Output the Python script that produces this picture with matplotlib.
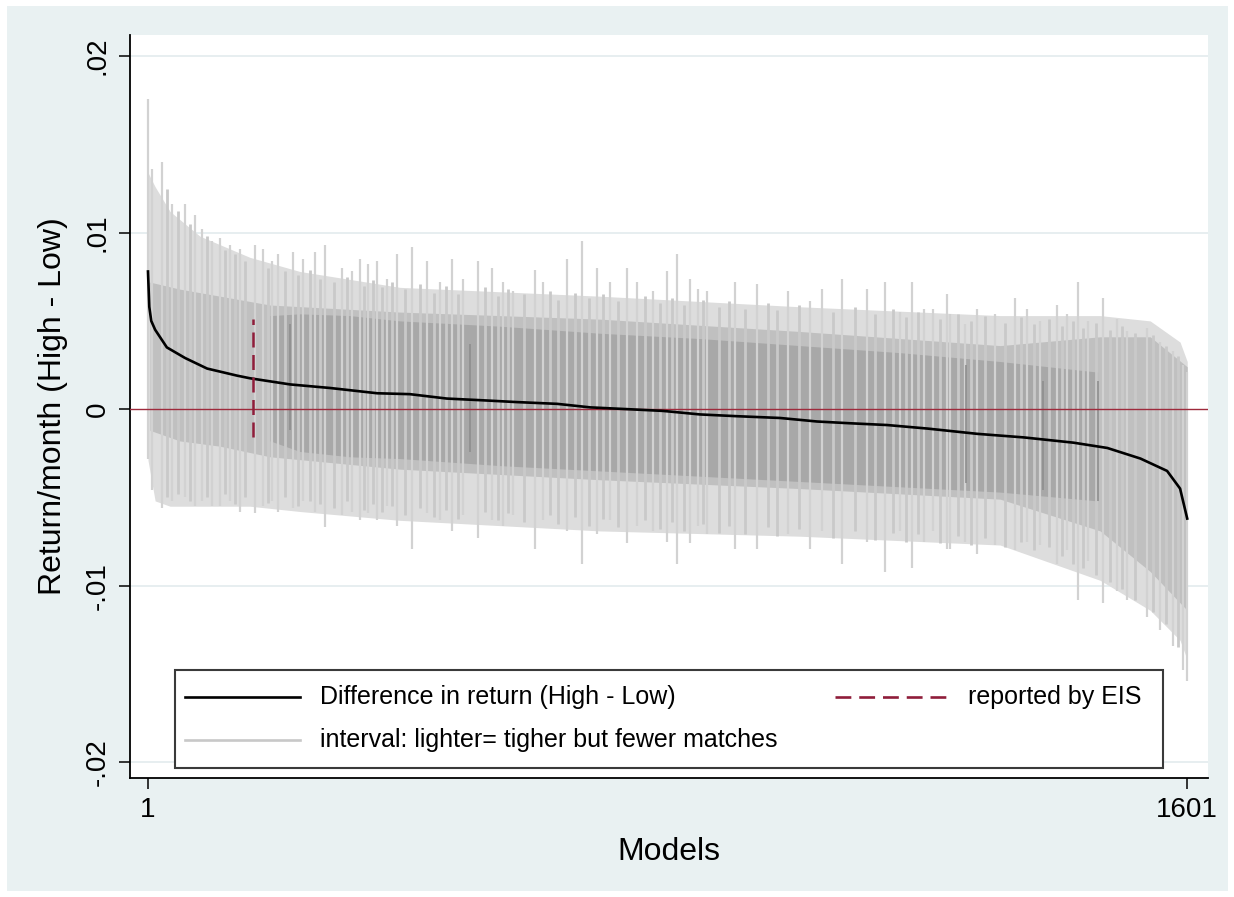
import matplotlib
matplotlib.use("Agg")
import matplotlib.pyplot as plt
from matplotlib.patches import Rectangle
from matplotlib.lines import Line2D

FONT = ['Liberation Sans', 'DejaVu Sans']
plt.rcParams['font.family'] = FONT

# ---------------- data ----------------
# difference in return (High - Low), sorted, read at model checkpoints
line_models = [1, 3, 6, 12, 30, 58, 92, 138, 158, 220, 281, 354, 404, 461, 517, 569,
               631, 682, 739, 794, 851, 908, 974, 1031, 1082, 1139, 1201, 1278, 1349,
               1426, 1478, 1529, 1570, 1590, 1601]
line_diff = [0.0078, 0.0058, 0.0050, 0.0045, 0.0035, 0.0029, 0.0023, 0.0019, 0.00175,
             0.0014, 0.0012, 0.0009, 0.00085, 0.0006, 0.0005, 0.0004, 0.0003, 0.0001,
             0.0000, -0.0001, -0.0003, -0.0004, -0.0005, -0.0007, -0.0008, -0.0009,
             -0.0011, -0.0014, -0.0016, -0.0019, -0.0022, -0.0028, -0.0035, -0.0045,
             -0.0062]

# light interval envelope (many models, few matches)
light_models = [1, 12, 35, 81, 158, 235, 389, 697, 1005, 1313, 1467, 1544, 1590, 1601]
light_hi = [0.0134, 0.0126, 0.0112, 0.0098, 0.0086, 0.0078, 0.0069, 0.0064, 0.0058,
            0.0053, 0.0053, 0.0050, 0.0038, 0.0027]
light_lo = [-0.0029, -0.0052, -0.0055, -0.0055, -0.0055, -0.0058, -0.0063, -0.0069,
            -0.0072, -0.0077, -0.0097, -0.0114, -0.0131, -0.0142]

# medium interval envelope
mid_models = [4, 50, 112, 189, 389, 697, 1005, 1313, 1467, 1544, 1601]
mid_hi = [0.0072, 0.0068, 0.0064, 0.0059, 0.0055, 0.0051, 0.0044, 0.0036, 0.0041,
          0.0041, 0.0024]
mid_lo = [-0.0012, -0.0018, -0.0021, -0.0027, -0.0034, -0.0040, -0.0045, -0.0051,
          -0.0069, -0.0092, -0.0114]

# dark interval envelope (more matches)
dark_models = [189, 235, 312, 389, 543, 697, 851, 1005, 1159, 1313, 1463]
dark_hi = [0.0053, 0.0054, 0.0053, 0.0050, 0.0047, 0.0043, 0.0040, 0.0036, 0.0032,
           0.0027, 0.0021]
dark_lo = [-0.0018, -0.0024, -0.0027, -0.0028, -0.0032, -0.0035, -0.0038, -0.0041,
           -0.0044, -0.0047, -0.0052]

# individual wide (light) intervals visible as tall spikes
spike_models = [1, 7, 23, 38, 58, 73, 84, 100, 112, 127, 143, 166, 178, 192, 201, 224,
                240, 258, 274, 300, 315, 327, 340, 354, 369, 384, 408, 431, 451, 469,
                486, 509, 531, 548, 563, 597, 609, 646, 669, 692, 712, 739, 754, 779,
                800, 816, 836, 848, 862, 905, 939, 987, 1020, 1039, 1070, 1108, 1136,
                1159, 1178, 1195, 1210, 1231, 1236, 1259, 1278, 1305, 1336, 1355, 1375,
                1401, 1416, 1433, 1449, 1472, 1493, 1509, 1539, 1559, 1579, 1595, 1600]
spike_hi = [0.0176, 0.0136, 0.0140, 0.0116, 0.0116, 0.0110, 0.0102, 0.0095, 0.0097,
            0.0093, 0.0091, 0.0093, 0.0091, 0.0084, 0.0088, 0.0089, 0.0085, 0.0089,
            0.0093, 0.0080, 0.0078, 0.0085, 0.0082, 0.0084, 0.0074, 0.0088, 0.0092,
            0.0084, 0.0072, 0.0085, 0.0074, 0.0084, 0.0080, 0.0072, 0.0067, 0.0079,
            0.0072, 0.0085, 0.0095, 0.0080, 0.0072, 0.0080, 0.0072, 0.0067, 0.0078,
            0.0088, 0.0074, 0.0068, 0.0067, 0.0072, 0.0071, 0.0067, 0.0061, 0.0068,
            0.0074, 0.0068, 0.0072, 0.0055, 0.0072, 0.0057, 0.0057, 0.0065, 0.0054,
            0.0048, 0.0057, 0.0054, 0.0063, 0.0057, 0.0050, 0.0059, 0.0054, 0.0072,
            0.0050, 0.0063, 0.0051, 0.0044, 0.0046, 0.0038, 0.0033, 0.0025, 0.0021]
spike_lo = [-0.0028, -0.0046, -0.0056, -0.0052, -0.0050, -0.0055, -0.0052, -0.0055,
            -0.0055, -0.0052, -0.0058, -0.0059, -0.0055, -0.0052, -0.0058, -0.0056,
            -0.0052, -0.0058, -0.0067, -0.0060, -0.0058, -0.0063, -0.0059, -0.0063,
            -0.0055, -0.0066, -0.0079, -0.0059, -0.0063, -0.0069, -0.0060, -0.0073,
            -0.0063, -0.0066, -0.0060, -0.0079, -0.0063, -0.0069, -0.0088, -0.0071,
            -0.0063, -0.0076, -0.0066, -0.0069, -0.0075, -0.0088, -0.0076, -0.0066,
            -0.0071, -0.0079, -0.0079, -0.0071, -0.0079, -0.0069, -0.0088, -0.0075,
            -0.0092, -0.0069, -0.0090, -0.0075, -0.0069, -0.0079, -0.0079, -0.0075,
            -0.0082, -0.0077, -0.0080, -0.0075, -0.0077, -0.0088, -0.0080, -0.0108,
            -0.0086, -0.0110, -0.0103, -0.0108, -0.0118, -0.0125, -0.0134, -0.0148,
            -0.0154]

# intermediate intervals (medium spikes)
spike2_models = [30, 47, 65, 92, 120, 135, 150, 185, 212, 232, 250, 266, 287, 307, 333,
                 347, 362, 377, 396, 420, 441, 460, 478, 520, 540, 556, 580, 620, 633,
                 658, 680, 702, 725, 766, 790, 808, 826, 855, 880, 895, 920, 955, 970,
                 1003, 1055, 1090, 1120, 1148, 1168, 1187, 1220, 1248, 1268, 1290, 1320,
                 1345, 1365, 1388, 1408, 1425, 1440, 1460, 1482, 1500, 1520, 1549, 1568,
                 1587]
spike2_hi = [0.0125, 0.0112, 0.0105, 0.0098, 0.0090, 0.0088, 0.0084, 0.0080, 0.0078,
             0.0076, 0.0079, 0.0074, 0.0072, 0.0075, 0.0070, 0.0073, 0.0069, 0.0072,
             0.0068, 0.0071, 0.0066, 0.0070, 0.0065, 0.0069, 0.0064, 0.0068, 0.0065,
             0.0067, 0.0062, 0.0066, 0.0063, 0.0065, 0.0061, 0.0064, 0.0060, 0.0063,
             0.0059, 0.0062, 0.0058, 0.0061, 0.0057, 0.0060, 0.0056, 0.0059, 0.0055,
             0.0058, 0.0054, 0.0057, 0.0052, 0.0055, 0.0051, 0.0054, 0.0050, 0.0053,
             0.0049, 0.0052, 0.0048, 0.0051, 0.0047, 0.0050, 0.0046, 0.0049, 0.0045,
             0.0047, 0.0043, 0.0042, 0.0036, 0.0030]
spike2_lo = [-0.0050, -0.0048, -0.0052, -0.0050, -0.0048, -0.0054, -0.0050, -0.0053,
             -0.0050, -0.0055, -0.0052, -0.0054, -0.0056, -0.0052, -0.0057, -0.0054,
             -0.0058, -0.0055, -0.0060, -0.0056, -0.0061, -0.0057, -0.0062, -0.0058,
             -0.0063, -0.0059, -0.0064, -0.0060, -0.0065, -0.0061, -0.0066, -0.0062,
             -0.0067, -0.0063, -0.0068, -0.0064, -0.0069, -0.0065, -0.0070, -0.0066,
             -0.0071, -0.0067, -0.0072, -0.0068, -0.0073, -0.0069, -0.0074, -0.0070,
             -0.0075, -0.0071, -0.0076, -0.0072, -0.0077, -0.0073, -0.0078, -0.0075,
             -0.0080, -0.0078, -0.0083, -0.0088, -0.0090, -0.0094, -0.0098, -0.0102,
             -0.0108, -0.0115, -0.0122, -0.0135]

# individual narrow (dark) intervals
darkline_models = [220, 497, 1261, 1379, 1463]
darkline_hi = [0.0048, 0.0037, 0.0025, 0.0016, 0.0016]
darkline_lo = [-0.0012, -0.0024, -0.0042, -0.0046, -0.0052]

# reported by EIS
eis_model = 163
eis_hi = 0.0051
eis_lo = -0.0016

yticks = [-0.02, -0.01, 0.0, 0.01, 0.02]
ytick_labels = ['-.02', '-.01', '0', '.01', '.02']
xticks = [1, 1601]
xtick_labels = ['1', '1601']

# ---------------- figure ----------------
W, H = 1234, 897
fig = plt.figure(figsize=(W / 100, H / 100), dpi=100, facecolor='white')
BG = '#e9f1f2'
fig.patches.append(Rectangle((7 / W, 1 - 891 / H), (1228 - 7) / W, (891 - 6) / H,
                             transform=fig.transFigure, facecolor=BG, edgecolor='none',
                             zorder=-10))

ax = fig.add_axes([130 / W, 1 - 778 / H, (1208 - 130) / W, (778 - 35) / H])
ax.set_facecolor('white')
ax.set_xlim(-26.7, 1633)
ax.set_ylim(-0.0209, 0.0212)

for g in [-0.02, -0.01, 0.01, 0.02]:
    ax.axhline(g, color='#e3ebee', lw=1.2, zorder=1)

ax.fill_between(light_models, light_hi, light_lo, color='#dddddd', lw=0, zorder=2)
ax.fill_between(mid_models, mid_hi, mid_lo, color='#c0c0c0', lw=0, zorder=3)
ax.fill_between(dark_models, dark_hi, dark_lo, color='#a8a8a8', lw=0, zorder=4)
ax.vlines(spike2_models, spike2_lo, spike2_hi, color='#c9c9c9', lw=2.0, zorder=5)
ax.vlines(spike_models, spike_lo, spike_hi, color='#d2d2d2', lw=1.6, zorder=5)
ax.vlines(darkline_models, darkline_lo, darkline_hi, color='#8e8e8e', lw=1.2, zorder=6)

ax.axhline(0, color='#9e2a3c', lw=1.0, zorder=7)
ax.plot(line_models, line_diff, color='black', lw=1.9, zorder=8,
        solid_joinstyle='round')
ax.vlines([eis_model], [eis_lo], [eis_hi], color='#8f1d3a', lw=1.8, zorder=9,
          linestyles=(0, (6, 3)))

for s in ['top', 'right']:
    ax.spines[s].set_visible(False)
for s in ['left', 'bottom']:
    ax.spines[s].set_color('black')
    ax.spines[s].set_linewidth(1.3)

ax.set_yticks(yticks)
ax.set_yticklabels(ytick_labels, rotation=90, va='center', fontsize=20)
ax.set_xticks(xticks)
ax.set_xticklabels(xtick_labels, fontsize=20)
ax.tick_params(axis='both', direction='out', length=8, width=1.1, color='black', pad=6)
ax.set_ylabel('Return/month (High - Low)', fontsize=23, labelpad=12)
ax.set_xlabel('Models', fontsize=23, labelpad=10)

# legend (drawn in axes coordinates)
aw, ah = 1078, 743
def fx(px):
    return (px - 130) / aw
def fy(py):
    return (778 - py) / ah

ax.add_patch(Rectangle((fx(175), fy(768)), fx(1163) - fx(175), fy(670) - fy(768),
                       transform=ax.transAxes, facecolor='white', edgecolor='#3a3a3a',
                       lw=1.5, zorder=20))
ax.add_line(Line2D([fx(185), fx(300)], [fy(697)] * 2, transform=ax.transAxes,
                   color='black', lw=1.9, zorder=21))
ax.add_line(Line2D([fx(185), fx(300)], [fy(740)] * 2, transform=ax.transAxes,
                   color='#c8c8c8', lw=1.9, zorder=21))
ax.add_line(Line2D([fx(835), fx(950)], [fy(697)] * 2, transform=ax.transAxes,
                   color='#8f1d3a', lw=1.9, zorder=21, linestyle=(0, (6, 3))))
ax.text(fx(320), fy(697), 'Difference in return (High - Low)', transform=ax.transAxes,
        fontsize=18, va='center', ha='left', zorder=22)
ax.text(fx(320), fy(740), 'interval: lighter= tigher but fewer matches',
        transform=ax.transAxes, fontsize=18, va='center', ha='left', zorder=22)
ax.text(fx(968), fy(697), 'reported by EIS', transform=ax.transAxes,
        fontsize=18, va='center', ha='left', zorder=22)

fig.savefig('out.png', dpi=100, facecolor='white')
